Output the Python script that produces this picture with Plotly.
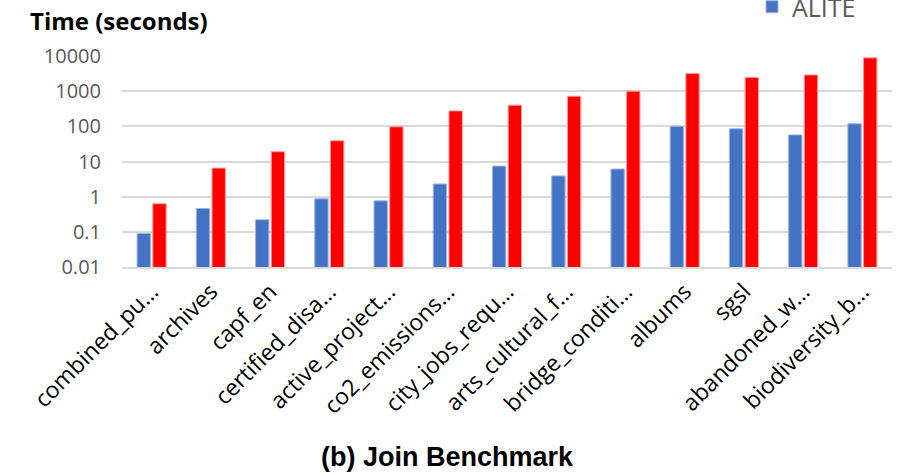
import plotly.graph_objects as go

# Join benchmark runtimes per dataset (seconds, log scale)
datasets = [
    "combined_pu…", "archives", "capf_en", "certified_disa…", "active_project…",
    "co2_emissions…", "city_jobs_requ…", "arts_cultural_f…", "bridge_conditi…",
    "albums", "sgsl", "abandoned_w…", "biodiversity_b…",
]
alite_times = [0.09, 0.46, 0.22, 0.87, 0.76, 2.3, 7.4, 3.9, 6.1, 100, 85, 57, 118]
baseline_times = [0.63, 6.5, 19, 39, 97, 275, 400, 720, 1000, 3160, 2440, 2900, 8850]

y_tickvals = [0.01, 0.1, 1, 10, 100, 1000, 10000]
y_ticktext = ["0.01", "0.1", "1", "10", "100", "1000", "10000"]

fig = go.Figure()
fig.add_trace(go.Bar(
    x=datasets, y=alite_times, name="ALITE",
    marker=dict(color="#4472C4", line=dict(color="#9DB3E0", width=1)),
))
fig.add_trace(go.Bar(
    x=datasets, y=baseline_times, name="Baseline", showlegend=False,
    marker=dict(color="#FF0000", line=dict(color="#FF9A9A", width=1)),
))

fig.update_layout(
    width=920, height=475,
    margin=dict(l=122, r=28, t=56, b=208, autoexpand=False),
    paper_bgcolor="white", plot_bgcolor="white",
    barmode="group", bargap=0.47, bargroupgap=0.15,
    font=dict(family="Open Sans", color="#595959"),
    showlegend=True,
    legend=dict(
        x=(752 - 122) / 770, xanchor="left",
        y=1 + 72 / 211, yanchor="top",
        font=dict(size=25, color="#595959", family="Open Sans"),
        bgcolor="rgba(0,0,0,0)", borderwidth=0,
    ),
    xaxis=dict(
        type="category", tickangle=-45, showgrid=False, ticks="",
        tickfont=dict(size=23, color="#000000", family="Open Sans"),
        showline=True, linecolor="#D9D9D9", linewidth=2,
    ),
    yaxis=dict(
        type="log", range=[-2, 4], tickvals=y_tickvals, ticktext=y_ticktext,
        showgrid=True, gridcolor="#D9D9D9", gridwidth=2,
        zeroline=False, showline=False, ticks="",
        ticklabelstandoff=20,
        tickfont=dict(size=20, color="#595959", family="Open Sans"),
    ),
    annotations=[
        dict(text="<b>Time (seconds)</b>", xref="paper", yref="paper",
             x=(28 - 122) / 770, y=1 + 36 / 211, xanchor="left", yanchor="middle",
             showarrow=False, font=dict(size=24, color="#000000", family="Open Sans")),
        dict(text="<b>(b) Join Benchmark</b>", xref="paper", yref="paper",
             x=(447 - 122) / 770, y=-190 / 211, xanchor="center", yanchor="middle",
             showarrow=False, font=dict(size=27, color="#000000",
                                        family="Liberation Sans")),
    ],
)

fig.write_html("out.html")
